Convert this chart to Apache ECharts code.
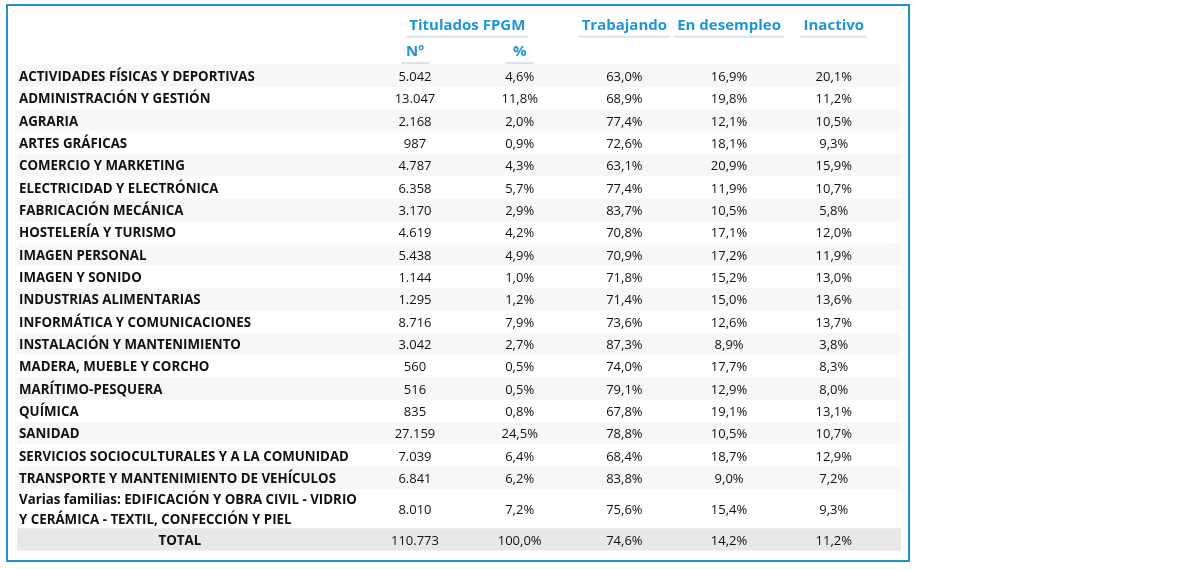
<!DOCTYPE html>
<html>
<head>
<meta charset="utf-8">
<script src="https://cdn.jsdelivr.net/npm/echarts@6/dist/echarts.min.js"></script>
<style>
  html, body { margin: 0; padding: 0; background: #fff; }
  #main { width: 1180px; height: 569px; }
</style>
</head>
<body>
<div id="main"></div>
<script>
// familias profesionales (la última es el total)
const categories = [
  'ACTIVIDADES FÍSICAS Y DEPORTIVAS',
  'ADMINISTRACIÓN Y GESTIÓN',
  'AGRARIA',
  'ARTES GRÁFICAS',
  'COMERCIO Y MARKETING',
  'ELECTRICIDAD Y ELECTRÓNICA',
  'FABRICACIÓN MECÁNICA',
  'HOSTELERÍA Y TURISMO',
  'IMAGEN PERSONAL',
  'IMAGEN Y SONIDO',
  'INDUSTRIAS ALIMENTARIAS',
  'INFORMÁTICA Y COMUNICACIONES',
  'INSTALACIÓN Y MANTENIMIENTO',
  'MADERA, MUEBLE Y CORCHO',
  'MARÍTIMO-PESQUERA',
  'QUÍMICA',
  'SANIDAD',
  'SERVICIOS SOCIOCULTURALES Y A LA COMUNIDAD',
  'TRANSPORTE Y MANTENIMIENTO DE VEHÍCULOS',
  'Varias familias: EDIFICACIÓN Y OBRA CIVIL - VIDRIO\nY CERÁMICA - TEXTIL, CONFECCIÓN Y PIEL',
  'TOTAL'
]
const graduates = [5042, 13047, 2168, 987, 4787, 6358, 3170, 4619, 5438, 1144, 1295, 8716, 3042, 560, 516, 835, 27159, 7039, 6841, 8010, 110773]
const graduatesPct = [4.6, 11.8, 2.0, 0.9, 4.3, 5.7, 2.9, 4.2, 4.9, 1.0, 1.2, 7.9, 2.7, 0.5, 0.5, 0.8, 24.5, 6.4, 6.2, 7.2, 100.0]
const working = [63.0, 68.9, 77.4, 72.6, 63.1, 77.4, 83.7, 70.8, 70.9, 71.8, 71.4, 73.6, 87.3, 74.0, 79.1, 67.8, 78.8, 68.4, 83.8, 75.6, 74.6]
const unemployed = [16.9, 19.8, 12.1, 18.1, 20.9, 11.9, 10.5, 17.1, 17.2, 15.2, 15.0, 12.6, 8.9, 17.7, 12.9, 19.1, 10.5, 18.7, 9.0, 15.4, 14.2]
const inactive = [20.1, 11.2, 10.5, 9.3, 15.9, 10.7, 5.8, 12.0, 11.9, 13.0, 13.6, 13.7, 3.8, 8.3, 8.0, 13.1, 10.7, 12.9, 7.2, 9.3, 11.2]

// cabeceras
const groupHeader = 'Titulados FPGM'
const subHeaders = ['Nº', '%']
const statusHeaders = ['Trabajando', 'En desempleo', 'Inactivo']

const BLUE = '#1e96d6'
const TEXT = '#111111'
const FONT = '"Open Sans", "Noto Sans", sans-serif'
const X_MIN = -2.801
const X_MAX = 5.642

const fmtInt = v => String(v).replace(/\B(?=(\d{3})+(?!\d))/g, '.')
const fmtPct = v => v.toFixed(1).replace('.', ',') + '%'

// filas: las de dos líneas ocupan más alto
let acc = 0
const rows = categories.map((c, i) => {
  const lines = c.split('\n').length
  const span = lines > 1 ? 1.75 : 1
  const r = [acc, acc + span, i]
  acc += span
  return r
})
const totalSpan = acc

const measure = (() => {
  const ctx = document.createElement('canvas').getContext('2d')
  return (text, font) => { ctx.font = font; return ctx.measureText(text).width }
})()

const chart = echarts.init(document.getElementById('main'), null, { renderer: 'canvas' })

function renderRow(params, api) {
  const y0 = api.value(0), y1 = api.value(1), i = api.value(2)
  const xMin = api.coord([X_MIN, y0])[0]
  const xMax = api.coord([X_MAX, y0])[0]
  const top = api.coord([0, y0])[1]
  const bottom = api.coord([0, y1])[1]
  const mid = (top + bottom) / 2 + 1.5
  const isTotal = i === categories.length - 1
  const children = []
  if (isTotal || i % 2 === 0) {
    children.push({
      type: 'rect',
      shape: { x: xMin, y: top, width: xMax - xMin, height: bottom - top },
      style: { fill: isTotal ? '#e8e8e8' : '#f7f7f7' }
    })
  }
  children.push({
    type: 'text',
    style: {
      x: isTotal ? api.coord([-1.245, y0])[0] : xMin + 2,
      y: mid,
      text: categories[i],
      fill: TEXT,
      font: 'bold 13.3px ' + FONT,
      lineHeight: 20,
      align: isTotal ? 'center' : 'left',
      verticalAlign: 'middle'
    }
  })
  const vals = [fmtInt(graduates[i]), fmtPct(graduatesPct[i]), fmtPct(working[i]), fmtPct(unemployed[i]), fmtPct(inactive[i])]
  vals.forEach((t, k) => {
    children.push({
      type: 'text',
      style: {
        x: api.coord([k + 1, y0])[0],
        y: mid,
        text: t,
        fill: TEXT,
        font: '13px ' + FONT,
        align: 'center',
        verticalAlign: 'middle'
      }
    })
  })
  return { type: 'group', children }
}

function headerItem(text, x, y, font) {
  const w = Math.max(measure(text, font) + 6, 28)
  return [
    { type: 'text', style: { x, y, text, fill: BLUE, font, align: 'center', verticalAlign: 'middle' } },
    { type: 'line', shape: { x1: x - w / 2, y1: y + 11, x2: x + w / 2, y2: y + 11 }, style: { stroke: '#dce4ea', lineWidth: 2 } }
  ]
}

function renderHeader(params, api) {
  if (params.dataIndex !== 0) return
  const font = 'bold 15px ' + FONT
  const yTop = api.coord([0, -1.82])[1] + 2
  const ySub = api.coord([0, -0.65])[1] + 2
  let children = []
  const gx = (api.coord([1, 0])[0] + api.coord([2, 0])[0]) / 2
  children = children.concat(headerItem(groupHeader, gx, yTop, font))
  subHeaders.forEach((h, k) => {
    children = children.concat(headerItem(h, api.coord([k + 1, 0])[0], ySub, font))
  })
  statusHeaders.forEach((h, k) => {
    children = children.concat(headerItem(h, api.coord([k + 3, 0])[0], yTop, font))
  })
  return { type: 'group', children }
}

chart.setOption({
  animation: false,
  grid: { left: 17, right: 279, top: 64.5, bottom: 18.5 },
  xAxis: { type: 'value', min: X_MIN, max: X_MAX, show: false },
  yAxis: { type: 'value', inverse: true, min: 0, max: totalSpan, show: false },
  graphic: [{
    type: 'rect',
    shape: { x: 7, y: 5, width: 902, height: 556 },
    style: { fill: 'none', stroke: '#1e8fcf', lineWidth: 2 },
    z: 10
  }],
  series: [
    {
      type: 'custom',
      renderItem: renderRow,
      encode: { y: [0, 1] },
      data: rows,
      clip: false
    },
    {
      type: 'custom',
      renderItem: renderHeader,
      data: [[0, 0]],
      clip: false
    }
  ]
})
</script>
</body>
</html>
